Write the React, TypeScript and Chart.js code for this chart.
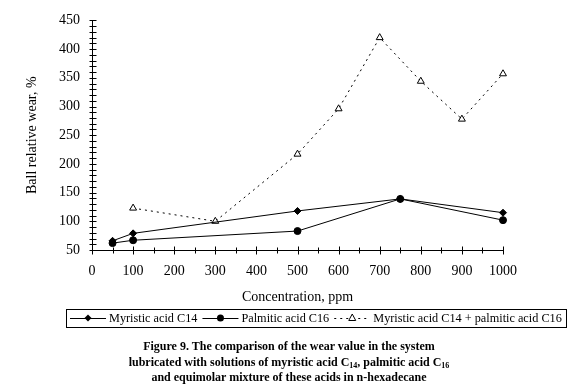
import React, { useEffect, useRef } from "react";
import { Chart, registerables } from "chart.js";

Chart.register(...registerables);

const concC14 = [50, 100, 500, 750, 1000];
const wearC14 = [66, 79, 118, 139, 115];
const concC16 = [50, 100, 500, 750, 1000];
const wearC16 = [62, 67, 83, 139, 102];
const concMix = [100, 300, 500, 600, 700, 800, 900, 1000];
const wearMix = [123, 100, 217, 296, 420, 344, 278, 357];

const legendLabels = [
  "Myristic acid C14",
  "Palmitic acid C16",
  "Myristic acid C14 + palmitic acid C16",
];

const X_MIN = 0, X_MAX = 1000, X_STEP = 100, X_MINOR = 50;
const Y_MIN = 50, Y_MAX = 450, Y_STEP = 50, Y_MINOR = 10;

const FONT = "'Liberation Serif', 'Times New Roman', serif";

function drawMarker(ctx: CanvasRenderingContext2D, style: string, x: number, y: number) {
  ctx.save();
  ctx.fillStyle = "#000";
  ctx.strokeStyle = "#000";
  ctx.lineWidth = 1;
  ctx.setLineDash([]);
  ctx.beginPath();
  if (style === "circle") {
    ctx.arc(x, y, 3.5, 0, Math.PI * 2);
    ctx.fill();
  } else if (style === "rectRot") {
    ctx.moveTo(x, y - 3.5);
    ctx.lineTo(x + 3.5, y);
    ctx.lineTo(x, y + 3.5);
    ctx.lineTo(x - 3.5, y);
    ctx.closePath();
    ctx.fill();
  } else {
    ctx.moveTo(x, y - 4);
    ctx.lineTo(x + 3.5, y + 2.5);
    ctx.lineTo(x - 3.5, y + 2.5);
    ctx.closePath();
    ctx.fillStyle = "#fff";
    ctx.fill();
    ctx.stroke();
  }
  ctx.restore();
}

const ticksPlugin = {
  id: "crossTicks",
  afterDraw(chart: any) {
    const ctx = chart.ctx as CanvasRenderingContext2D;
    const xs = chart.scales.x;
    const ys = chart.scales.y;
    const ax = Math.round(xs.left) + 0.5;
    const ay = Math.round(ys.bottom) + 0.5;
    ctx.save();
    ctx.strokeStyle = "#000";
    ctx.lineWidth = 1;
    ctx.beginPath();
    for (let v = Y_MIN; v <= Y_MAX; v += Y_MINOR) {
      const py = Math.round(ys.getPixelForValue(v)) + 0.5;
      ctx.moveTo(ax - 3, py);
      ctx.lineTo(ax + 4, py);
    }
    for (let v = X_MIN; v <= X_MAX; v += X_MINOR) {
      const px = Math.round(xs.getPixelForValue(v)) + 0.5;
      const major = v % X_STEP === 0;
      ctx.moveTo(px, ay - (major ? 4 : 3));
      ctx.lineTo(px, ay + (major ? 4 : 3));
    }
    ctx.stroke();
    ctx.restore();
  },
};

const BOX = { left: 66, right: 566, top: 309, bottom: 327 };

const legendPlugin = {
  id: "boxLegend",
  afterDraw(chart: any) {
    const ctx = chart.ctx as CanvasRenderingContext2D;
    ctx.save();
    ctx.strokeStyle = "#000";
    ctx.lineWidth = 1;
    ctx.strokeRect(BOX.left + 0.5, BOX.top + 0.5, BOX.right - BOX.left, BOX.bottom - BOX.top);
    const lineLen = 36, gapText = 3, gapItem = 5;
    const avail = BOX.right - BOX.left - 7;
    let size = 14;
    for (; size > 9; size -= 0.25) {
      ctx.font = size + "px " + FONT;
      let tot = 0;
      legendLabels.forEach((l) => (tot += lineLen + gapText + ctx.measureText(l).width));
      tot += gapItem * 2;
      if (tot <= avail) break;
    }
    ctx.font = size + "px " + FONT;
    ctx.textBaseline = "middle";
    ctx.fillStyle = "#000";
    const cy = Math.round((BOX.top + BOX.bottom) / 2);
    let x = BOX.left + 4;
    chart.data.datasets.forEach((ds: any, i: number) => {
      ctx.save();
      ctx.beginPath();
      ctx.setLineDash(ds.borderDash || []);
      ctx.moveTo(x, cy + 0.5);
      ctx.lineTo(x + lineLen, cy + 0.5);
      ctx.stroke();
      ctx.restore();
      drawMarker(ctx, ds.pointStyle, x + lineLen / 2, cy);
      ctx.fillText(legendLabels[i], x + lineLen + gapText, cy + 1);
      x += lineLen + gapText + ctx.measureText(legendLabels[i]).width + gapItem;
    });
    ctx.restore();
  },
};

export default function App() {
  const ref = useRef<HTMLCanvasElement>(null);
  useEffect(() => {
    document.body.style.margin = "0";
    const toPts = (xs: number[], ys: number[]) => xs.map((x, i) => ({ x, y: ys[i] }));
    const chart = new Chart(ref.current!, {
      type: "line",
      data: {
        datasets: [
          {
            label: legendLabels[0],
            data: toPts(concC14, wearC14),
            borderColor: "#000",
            backgroundColor: "#000",
            borderWidth: 1,
            pointStyle: "rectRot",
            pointRadius: 3.5,
            pointBackgroundColor: "#000",
            pointBorderColor: "#000",
            clip: false,
          },
          {
            label: legendLabels[1],
            data: toPts(concC16, wearC16),
            borderColor: "#000",
            backgroundColor: "#000",
            borderWidth: 1,
            pointStyle: "circle",
            pointRadius: 3.5,
            pointBackgroundColor: "#000",
            pointBorderColor: "#000",
            clip: false,
          },
          {
            label: legendLabels[2],
            data: toPts(concMix, wearMix),
            borderColor: "#000",
            backgroundColor: "#fff",
            borderWidth: 1,
            borderDash: [2, 4],
            pointStyle: "triangle",
            pointRadius: 4,
            pointBackgroundColor: "#fff",
            pointBorderColor: "#000",
            pointBorderWidth: 1,
            clip: false,
          },
        ] as any,
      },
      options: {
        animation: false,
        responsive: false,
        maintainAspectRatio: false,
        devicePixelRatio: 1,
        layout: { padding: { top: 19, right: 72, bottom: 75, left: 0 } },
        plugins: { legend: { display: false }, tooltip: { enabled: false } },
        scales: {
          x: {
            type: "linear",
            min: X_MIN,
            max: X_MAX,
            grid: { display: false, drawTicks: false },
            border: { display: true, color: "#000", width: 1 },
            ticks: {
              stepSize: X_STEP,
              color: "#000",
              font: { family: FONT, size: 14 },
              padding: 13,
              maxRotation: 0,
              callback: (v: any) => String(v),
            },
            title: {
              display: true,
              text: "Concentration, ppm",
              color: "#000",
              font: { family: FONT, size: 14 },
              padding: { top: 0, bottom: 4 },
            },
            afterFit: (s: any) => {
              s.height = 60;
            },
          },
          y: {
            type: "linear",
            min: Y_MIN,
            max: Y_MAX,
            grid: { display: false, drawTicks: false },
            border: { display: true, color: "#000", width: 1 },
            ticks: {
              stepSize: Y_STEP,
              color: "#000",
              font: { family: FONT, size: 14 },
              padding: 12,
              callback: (v: any) => String(v),
            },
            title: {
              display: true,
              text: "Ball relative wear, %",
              color: "#000",
              font: { family: FONT, size: 14 },
              padding: { top: 24, bottom: 0 },
            },
            afterFit: (s: any) => {
              s.width = 92;
            },
          },
        },
      },
      plugins: [ticksPlugin, legendPlugin],
    });
    return () => chart.destroy();
  }, []);

  const capStyle: React.CSSProperties = {
    position: "absolute",
    left: 0,
    width: 578,
    textAlign: "center",
    fontFamily: FONT,
    fontWeight: "bold",
    fontSize: 12,
    lineHeight: "15.5px",
    color: "#000",
    whiteSpace: "nowrap",
  };
  const sub: React.CSSProperties = { fontSize: 8, verticalAlign: "-2px", lineHeight: 0 };

  return (
    <div style={{ position: "relative", width: 575, height: 385, background: "#fff" }}>
      <canvas ref={ref} width={575} height={385} style={{ display: "block" }} />
      <div style={{ ...capStyle, top: 339 }}>
        Figure 9. The comparison of the wear value in the system
        <br />
        lubricated with solutions of myristic acid C<span style={sub}>14</span>, palmitic acid C
        <span style={sub}>16</span>
        <br />
        and equimolar mixture of these acids in n-hexadecane
      </div>
    </div>
  );
}
